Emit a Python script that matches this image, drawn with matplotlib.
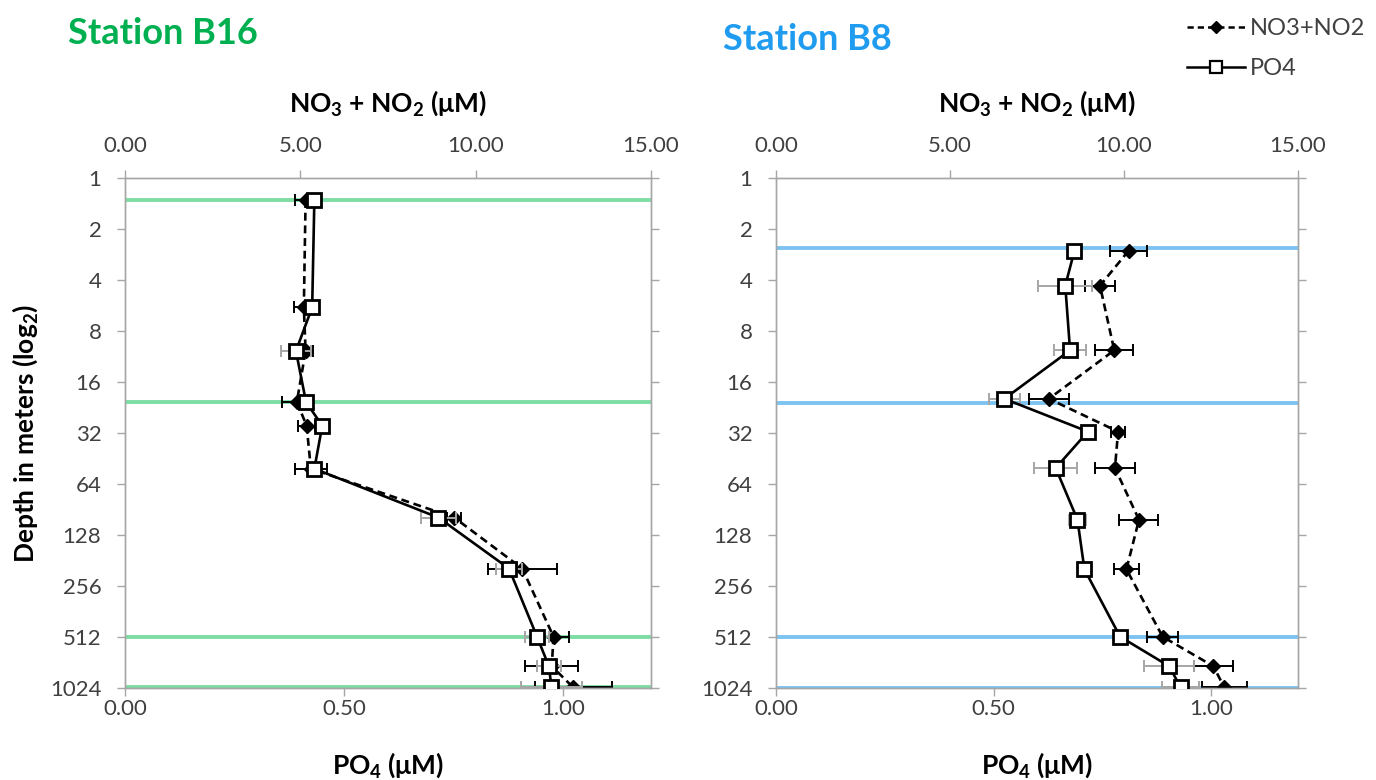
import numpy as np
import matplotlib
matplotlib.use("Agg")
import matplotlib.pyplot as plt
from matplotlib.lines import Line2D

plt.rcParams['font.family'] = ['Lato', 'DejaVu Sans']
plt.rcParams['mathtext.default'] = 'regular'

# station B16
depth_b16 = [1.35, 5.8, 10.5, 21, 29, 52, 101, 202, 510, 762, 1015]
no3_b16 = [5.15, 5.10, 5.15, 4.90, 5.18, 5.30, 9.39, 11.33, 12.22, 12.17, 12.78]
no3_err_b16 = [0.30, 0.28, 0.22, 0.43, 0.25, 0.45, 0.20, 0.98, 0.45, 0.75, 1.10]
po4_b16 = [0.432, 0.427, 0.390, 0.413, 0.450, 0.432, 0.715, 0.876, 0.940, 0.967, 0.973]
po4_err_b16 = [0.010, 0.010, 0.034, 0.010, 0.010, 0.010, 0.039, 0.030, 0.028, 0.027, 0.070]
marks_b16 = [1.35, 21, 510, 1015]

# station B8
depth_b8 = [2.69, 4.32, 10.4, 20.1, 31.4, 51.5, 104, 204, 510, 762, 1015]
no3_b8 = [10.13, 9.31, 9.72, 7.84, 9.83, 9.74, 10.43, 10.07, 11.11, 12.57, 12.88]
no3_err_b8 = [0.52, 0.43, 0.55, 0.57, 0.20, 0.57, 0.56, 0.35, 0.45, 0.56, 0.65]
po4_b8 = [0.686, 0.665, 0.676, 0.525, 0.717, 0.643, 0.693, 0.709, 0.791, 0.904, 0.930]
po4_err_b8 = [0.010, 0.062, 0.037, 0.035, 0.015, 0.050, 0.020, 0.015, 0.010, 0.058, 0.042]
marks_b8 = [2.6, 21.2, 510, 1024]

depth_ticks = [1, 2, 4, 8, 16, 32, 64, 128, 256, 512, 1024]
no3_ticks = [0, 5, 10, 15]
po4_ticks = [0, 0.5, 1.0]

GRAY = '#a6a6a6'
TXT = '#404040'
W, H = 1376, 780


def panel(left, width, depth, no3, no3_err, po4, po4_err, marks, mark_color, show_ylabel):
    ax = fig.add_axes([left / W, 92 / H, width / W, 510 / H])
    # NO3+NO2 against the top axis
    for d in marks:
        ax.axhline(d, color=mark_color, lw=2.8, zorder=1)
    ax.errorbar(no3, depth, xerr=no3_err, fmt='none', ecolor='black',
                elinewidth=1.4, capsize=4, capthick=1.4, zorder=2)
    ax.plot(no3, depth, color='black', ls=(0, (3.0, 1.8)), lw=1.9,
            marker='D', ms=7, mfc='black', mec='black', zorder=3)
    ax.set_xlim(0, 15)
    ax.set_yscale('log', base=2)
    ax.set_ylim(1024, 1)
    ax.set_yticks(depth_ticks)
    ax.set_yticklabels([str(t) for t in depth_ticks])
    ax.minorticks_off()

    # PO4 against the bottom axis
    axp = ax.twiny()
    axp.errorbar(po4, depth, xerr=po4_err, fmt='none', ecolor=GRAY,
                 elinewidth=1.4, capsize=4, capthick=1.4, zorder=2)
    axp.plot(po4, depth, color='black', lw=1.9, marker='s', ms=9.5,
             mfc='white', mec='black', mew=2.0, zorder=3)
    axp.set_xlim(0, 1.2)
    axp.xaxis.tick_bottom()
    axp.xaxis.set_label_position('bottom')
    axp.set_xticks(po4_ticks)
    axp.set_xticklabels(['%.2f' % t for t in po4_ticks])
    axp.set_xlabel('PO$_4$ (μM)', fontsize=19, fontweight='bold')
    axp.xaxis.set_label_coords(0.5, (688 - 765) / 510)
    axp.xaxis.label.set_va('center')

    # twiny moved the first axis to the bottom, put it back on top
    ax.xaxis.tick_top()
    ax.xaxis.set_label_position('top')
    ax.set_xticks(no3_ticks)
    ax.set_xticklabels(['%.2f' % t for t in no3_ticks])
    ax.set_xlabel('NO$_3$ + NO$_2$ (μM)', fontsize=19, fontweight='bold')
    ax.xaxis.set_label_coords(0.5, (688 - 103) / 510)
    ax.xaxis.label.set_va('center')

    for a in (ax, axp):
        for s in a.spines.values():
            s.set_color(GRAY)
            s.set_linewidth(1.0)
        a.tick_params(direction='out', length=6, width=1.0, color=GRAY,
                      labelsize=16, labelcolor=TXT)
    ax.tick_params(axis='x', pad=10)
    axp.tick_params(axis='x', pad=2)
    ax.tick_params(axis='y', right=True, left=True, labelright=False, pad=11)
    if show_ylabel:
        ax.set_ylabel('Depth in meters (log$_2$)', fontsize=19, fontweight='bold')
        ax.yaxis.set_label_coords((25 - left) / width, 0.5)
        ax.yaxis.label.set_va('center')
    return ax


fig = plt.figure(figsize=(W / 100, H / 100), dpi=100)

panel(125, 526, depth_b16, no3_b16, no3_err_b16,
      po4_b16, po4_err_b16, marks_b16, '#7edda4', True)
panel(776, 522, depth_b8, no3_b8, no3_err_b8,
      po4_b8, po4_err_b8, marks_b8, '#7cc3f2', False)

fig.text(68 / W, 1 - 33 / H, 'Station B16', color='#00b050', fontsize=26,
         fontweight='bold', va='center', ha='left')
fig.text(723 / W, 1 - 39 / H, 'Station B8', color='#1f9cf0', fontsize=26,
         fontweight='bold', va='center', ha='left')

handles = [
    Line2D([], [], color='black', ls=(0, (2.5, 1.6)), lw=1.8, marker='D', ms=6.5, mfc='black'),
    Line2D([], [], color='black', lw=1.8, marker='s', ms=8.5, mfc='white', mew=1.6),
]
fig.legend(handles, ['NO3+NO2', 'PO4'], loc='upper left', bbox_to_anchor=(1166 / W, 1 + 3 / H),
           frameon=False, fontsize=17, labelspacing=0.8, handlelength=2.45,
           handletextpad=0.2, labelcolor=TXT)

fig.savefig('out.png', dpi=100)
